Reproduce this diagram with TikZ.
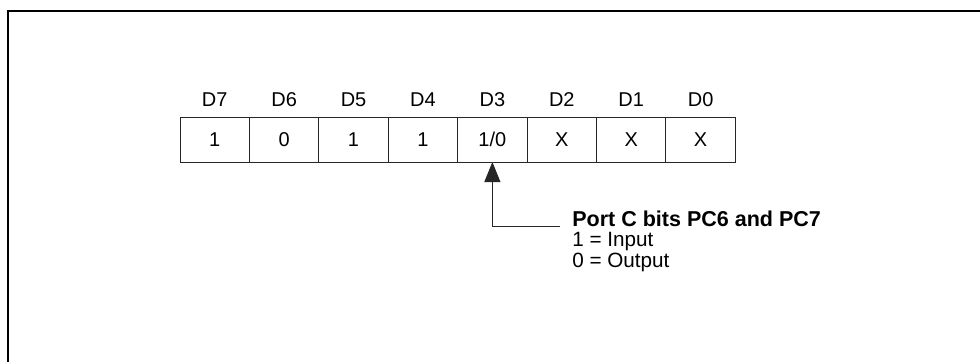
\documentclass[tikz,border=0pt]{standalone}
\usepackage{fontspec}
\setmainfont{Liberation Sans}
\usetikzlibrary{positioning,arrows.meta}

\begin{document}
\begin{tikzpicture}[x=0.025cm, y=-0.025cm,
	font=\fontsize{14.2}{17}\selectfont,
	bitcell/.style={
		rectangle, draw=black!85, line width=0.7pt,
		minimum width=1.735cm, minimum height=1.125cm,
		inner sep=0pt, outer sep=0pt},
	bitname/.style={inner sep=0pt},
	note/.style={inner xsep=0.3cm, inner ysep=0pt, font=\fontsize{14.7}{17}\selectfont},
	frame/.style={line width=1.5pt}]
	\useasboundingbox (0,0) rectangle (980,362);
	\draw[frame] (980,11) -| (8,362);
	% control word bits
	\node[bitcell] (d7) at (214.7,139.5) {1};
	\node[bitcell, right=0pt of d7] (d6) {0};
	\node[bitcell, right=0pt of d6] (d5) {1};
	\node[bitcell, right=0pt of d5] (d4) {1};
	\node[bitcell, right=0pt of d4] (d3) {1/0};
	\node[bitcell, right=0pt of d3] (d2) {X};
	\node[bitcell, right=0pt of d2] (d1) {X};
	\node[bitcell, right=0pt of d1] (d0) {X};
	\node[bitname, above=0.25cm of d7.north, anchor=base] (l7) {D7};
	\node[bitname, above=0.25cm of d6.north, anchor=base] (l6) {D6};
	\node[bitname, above=0.25cm of d5.north, anchor=base] (l5) {D5};
	\node[bitname, above=0.25cm of d4.north, anchor=base] (l4) {D4};
	\node[bitname, above=0.25cm of d3.north, anchor=base] (l3) {D3};
	\node[bitname, above=0.25cm of d2.north, anchor=base] (l2) {D2};
	\node[bitname, above=0.25cm of d1.north, anchor=base] (l1) {D1};
	\node[bitname, above=0.25cm of d0.north, anchor=base] (l0) {D0};
	% note on D3
	\node[note, anchor=base west, font=\fontsize{15.3}{17}\selectfont\bfseries] (title) at (560,226) {Port C bits PC6 and PC7};
	\node[note, below=0.5125cm of title.base west, anchor=base west] (input) {1 = Input};
	\node[note, below=0.5125cm of input.base west, anchor=base west] (output) {0 = Output};
	\draw[-{Triangle[length=0.5cm,width=0.4cm]}, line width=0.7pt, draw=black!85]
		(title.base west) -| (d3.south);
\end{tikzpicture}
\end{document}
